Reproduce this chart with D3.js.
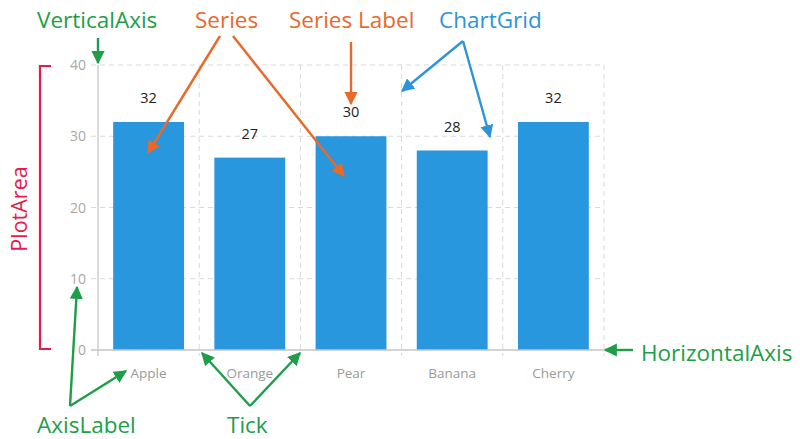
<!DOCTYPE html>
<html>
<head>
<meta charset="utf-8">
<script src="https://cdn.jsdelivr.net/npm/d3@7"></script>
<style>
  html, body { margin: 0; padding: 0; background: #fff; }
  svg { display: block; font-family: "Open Sans", "Noto Sans", sans-serif; }
</style>
</head>
<body>
<svg id="chart" width="800" height="439"></svg>
<script>
// ---- data ----
const categories = ["Apple", "Orange", "Pear", "Banana", "Cherry"];
const values = [32, 27, 30, 28, 32];
const yTicks = [0, 10, 20, 30, 40];

// ---- layout ----
const plot = { left: 98, right: 604, top: 65, bottom: 350 };
const colors = {
  bar: "#2897dd", grid: "#d9d9d9", axis: "#cfcfcf", tickText: "#a8a8a8",
  catText: "#9a9a9a", green: "#1e9e48", orange: "#e8692b", blue: "#2d95d7", red: "#e8194b"
};

const svg = d3.select("#chart");

const x = d3.scaleBand().domain(categories).range([plot.left, plot.right])
  .paddingInner(0.3).paddingOuter(0.15);
const y = d3.scaleLinear().domain([0, 40]).range([plot.bottom, plot.top]);

const step = x.step();
// band edges (left of each band) plus right edge
const edges = categories.map(c => x(c) - step * x.paddingInner() / 2).concat([plot.right]);

// grid: horizontal
svg.append("g").selectAll("line").data(yTicks.filter(t => t > 0)).join("line")
  .attr("x1", plot.left - 7).attr("x2", plot.right)
  .attr("y1", d => y(d)).attr("y2", d => y(d))
  .attr("stroke", colors.grid).attr("stroke-width", 1).attr("stroke-dasharray", "5,4");
// grid: vertical
svg.append("g").selectAll("line").data(edges.slice(1)).join("line")
  .attr("x1", d => d).attr("x2", d => d)
  .attr("y1", plot.top).attr("y2", plot.bottom + 6)
  .attr("stroke", colors.grid).attr("stroke-width", 1).attr("stroke-dasharray", "5,4");

// bars
svg.append("g").selectAll("rect").data(values).join("rect")
  .attr("x", (d, i) => x(categories[i]))
  .attr("width", x.bandwidth())
  .attr("y", d => y(d))
  .attr("height", d => y(0) - y(d))
  .attr("fill", colors.bar);

// value labels
svg.append("g").selectAll("text").data(values).join("text")
  .attr("x", (d, i) => x(categories[i]) + x.bandwidth() / 2)
  .attr("y", d => y(d) - 19)
  .attr("text-anchor", "middle")
  .attr("font-size", 14.5).attr("fill", "#222")
  .text(d => d);

// axes lines
svg.append("line").attr("x1", plot.left).attr("x2", plot.left)
  .attr("y1", plot.top).attr("y2", plot.bottom + 6)
  .attr("stroke", colors.axis).attr("stroke-width", 1.5);
svg.append("line").attr("x1", plot.left - 7).attr("x2", plot.right)
  .attr("y1", plot.bottom).attr("y2", plot.bottom)
  .attr("stroke", "#c4c4c4").attr("stroke-width", 1.5);

// y tick labels
svg.append("g").selectAll("text").data(yTicks).join("text")
  .attr("x", plot.left - 12).attr("y", d => y(d) + 5)
  .attr("text-anchor", "end").attr("font-size", 14).attr("fill", colors.tickText)
  .text(d => d);

// category labels
svg.append("g").selectAll("text").data(categories).join("text")
  .attr("x", d => x(d) + x.bandwidth() / 2).attr("y", plot.bottom + 28)
  .attr("text-anchor", "middle").attr("font-size", 13.5).attr("fill", colors.catText)
  .text(d => d);

// ---- annotations ----
const defs = svg.append("defs");
function marker(id, color) {
  defs.append("marker").attr("id", id).attr("viewBox", "0 0 10 10")
    .attr("refX", 9).attr("refY", 5).attr("markerWidth", 5.5).attr("markerHeight", 5.5)
    .attr("orient", "auto-start-reverse").attr("markerUnits", "strokeWidth")
    .append("path").attr("d", "M0,0 L10,5 L0,10 Z").attr("fill", color);
}
marker("mg", colors.green); marker("mo", colors.orange); marker("mb", colors.blue);

function arrow(x1, y1, x2, y2, color, m) {
  svg.append("line").attr("x1", x1).attr("y1", y1).attr("x2", x2).attr("y2", y2)
    .attr("stroke", color).attr("stroke-width", 2.4).attr("marker-end", `url(#${m})`);
}
function label(t, xx, yy, color, anchor) {
  svg.append("text").attr("x", xx).attr("y", yy).attr("font-size", 22.5)
    .attr("text-anchor", anchor || "start").attr("fill", color).text(t);
}

label("VerticalAxis", 37, 28, colors.green);
arrow(plot.left, 38, plot.left, y(40) - 2, colors.green, "mg");

label("Series", 195, 28, colors.orange);
arrow(220, 36, 148, 153, colors.orange, "mo");
arrow(233, 36, 344, 176, colors.orange, "mo");

label("Series Label", 289, 28, colors.orange);
arrow(351, 42, 351, 104, colors.orange, "mo");

label("ChartGrid", 439, 28, colors.blue);
arrow(463, 41, 402, 91, colors.blue, "mb");
arrow(463, 41, 490, 137, colors.blue, "mb");

label("HorizontalAxis", 641, 361, colors.green);
arrow(633, y(0), 605, y(0), colors.green, "mg");

label("AxisLabel", 37, 433, colors.green);
arrow(70, 406, 77, 287, colors.green, "mg");
arrow(70, 406, 126, 371, colors.green, "mg");

label("Tick", 227, 433, colors.green);
arrow(250, 406, 202, 353, colors.green, "mg");
arrow(250, 406, 300, 353, colors.green, "mg");

// PlotArea bracket
svg.append("path")
  .attr("d", `M51,${y(40) + 1} H40 V${y(0) - 1} H51`)
  .attr("fill", "none").attr("stroke", colors.red).attr("stroke-width", 2.2);
svg.append("text").attr("transform", "translate(27,209) rotate(-90)")
  .attr("text-anchor", "middle").attr("font-size", 21.5).attr("fill", colors.red)
  .text("PlotArea");
</script>
</body>
</html>
